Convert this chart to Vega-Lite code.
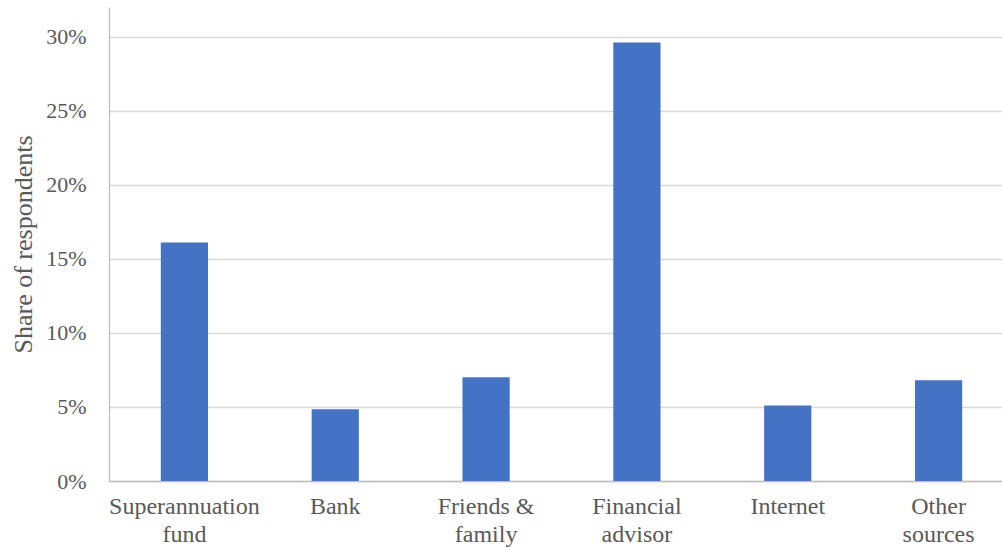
{
  "$schema": "https://vega.github.io/schema/vega-lite/v6.json",
  "width": 893,
  "height": 474,
  "autosize": {"type": "none"},
  "padding": {"left": 109, "top": 7, "right": 0, "bottom": 69},
  "background": "white",
  "config": {"view": {"stroke": null}},
  "data": {
    "values": [
      {"source": "Superannuation fund", "share": 0.161},
      {"source": "Bank", "share": 0.0485},
      {"source": "Friends & family", "share": 0.070},
      {"source": "Financial advisor", "share": 0.296},
      {"source": "Internet", "share": 0.051},
      {"source": "Other sources", "share": 0.068}
    ]
  },
  "mark": {"type": "bar", "color": "#4472C4"},
  "encoding": {
    "x": {
      "field": "source",
      "type": "nominal",
      "sort": null,
      "scale": {"range": [0, 905], "paddingInner": 0.687, "paddingOuter": 0.3435},
      "axis": {
        "title": null,
        "labelAngle": 0,
        "labelFont": "Liberation Serif",
        "labelFontSize": 24,
        "labelColor": "#595959",
        "labelLineHeight": 28,
        "labelPadding": 13,
        "labelBaseline": "top",
        "ticks": false,
        "domainColor": "#BFBFBF",
        "domainWidth": 1.3,
        "labelExpr": "datum.label == 'Friends & family' ? ['Friends &', 'family'] : split(datum.label, ' ')"
      }
    },
    "y": {
      "field": "share",
      "type": "quantitative",
      "scale": {"domain": [0, 0.32], "nice": false},
      "axis": {
        "title": "Share of respondents",
        "titleFont": "Liberation Serif",
        "titleFontSize": 26,
        "titleFontWeight": "normal",
        "titleColor": "#595959",
        "titlePadding": 9,
        "values": [0, 0.05, 0.1, 0.15, 0.2, 0.25, 0.3],
        "format": ".0%",
        "labelFont": "Liberation Serif",
        "labelFontSize": 22,
        "labelColor": "#595959",
        "labelPadding": 23,
        "ticks": false,
        "domainColor": "#BFBFBF",
        "domainWidth": 1.3,
        "gridColor": "#D9D9D9",
        "gridWidth": 1.3
      }
    }
  }
}
